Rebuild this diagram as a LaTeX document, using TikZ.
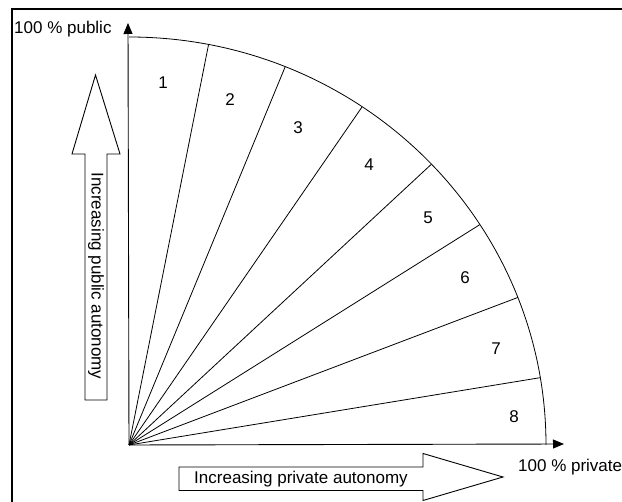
\documentclass[tikz,border=0pt]{standalone}
\usepackage{fontspec}
\setmainfont{Liberation Sans}
\usetikzlibrary{arrows.meta}
\begin{document}
\begin{tikzpicture}[x=1pt,y=-1pt,
  lbl/.style={font=\fontsize{17}{20}\selectfont, inner sep=0pt},
  spoke/.style={line width=0.8pt},
  axis/.style={line width=0.9pt,-{Triangle[length=11pt,width=9pt]}},
  bigarrow/.style={line width=0.9pt, line join=miter}]
\useasboundingbox (0,0) rectangle (622,502);

% outer frame
\draw[line width=2pt] (12,503) -- (12,9) -- (623,9);

% origin of the fan
\coordinate (O) at (129,445);
\coordinate (ytip) at (128,23);
\coordinate (xtip) at (564,444);

% fan: boundary arc and spokes
\begin{scope}[shift={(O)}, y=1pt]
  \foreach \a [count=\i] in {79,68,56,43.5,32.7,21.2,9.5}
    \coordinate (s\i) at (\a:417pt and 408pt);
  \draw[spoke] (0,408) arc[start angle=90, end angle=0, x radius=417, y radius=408];
\end{scope}
\foreach \i in {1,...,7}
  \draw[spoke] (O) -- (s\i);

% axes
\draw[axis] (O) -- (ytip);
\draw[axis] (O) -- (xtip);

% axis labels
\node[lbl, anchor=base west] (pub) at (14,34) {100 \% public};
\node[lbl, anchor=base west] (priv) at (518,471.5) {100 \% private};

% sector numbers
\node[lbl] (n1) at (163,83) {1};
\node[lbl] (n2) at (230,100) {2};
\node[lbl] (n3) at (298,128) {3};
\node[lbl] (n4) at (369,165) {4};
\node[lbl] (n5) at (428,218) {5};
\node[lbl] (n6) at (465,278) {6};
\node[lbl] (n7) at (496,349) {7};
\node[lbl] (n8) at (514,417) {8};

% vertical block arrow
\draw[bigarrow] (85,400) -- (85,154) -- (72,154) -- (95.5,75) -- (120,154)
  -- (107,154) -- (107,400) -- cycle;
\node[lbl, rotate=-90] (pubarrow) at (96,276) {Increasing public autonomy};

% horizontal block arrow
\draw[bigarrow] (179,467) -- (423,467) -- (423,453.5) -- (503,477) -- (423,500.5)
  -- (423,490.5) -- (179,490.5) -- cycle;
\node[lbl] (privarrow) at (301,479) {Increasing private autonomy};
\end{tikzpicture}
\end{document}
